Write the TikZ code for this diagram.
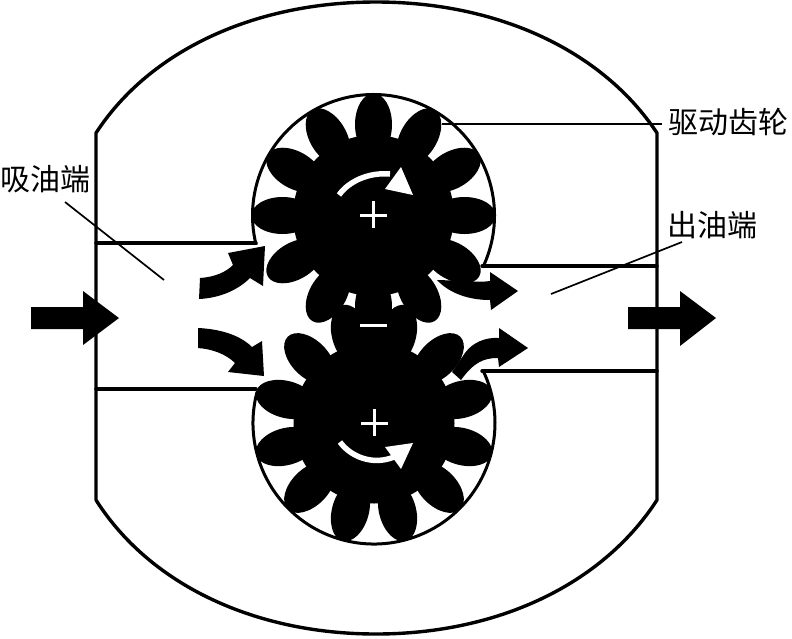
\documentclass[tikz,border=0pt]{standalone}
\usepackage{fontspec}
\newfontfamily\cjk{Noto Sans CJK SC}
\tikzset{
  x=1pt,y=1pt,
  wall/.style={line width=3.4pt,black,line cap=round,line join=round},
  casing/.style={line width=3pt,black},
  leader/.style={line width=1.7pt,black},
  blockarrow/.style={fill=black,draw=none},
  sign/.style={line width=3pt,white},
  lab/.style={font=\cjk\fontsize{30}{30}\selectfont,inner sep=0pt,text=black}
}
\newcommand{\gearat}[3]{% x, y, angle offset
  \fill[black] (#1,#2) circle[radius=80.5];
  \foreach \a in {0,30,...,330}{
    \fill[black,rotate around={#3+\a:(#1,#2)}] (#1+91,#2) ellipse[x radius=31,y radius=18.5];
  }
}
\begin{document}
\begin{tikzpicture}
\useasboundingbox (0,0) rectangle (792,-638);
\fill[white] (0,0) rectangle (792,-638);
% outer body
\draw[wall] (96,-500) -- (96,-133) .. controls (150,-50) and (255,-2) .. (376,-2)
  .. controls (497,-2) and (602,-50) .. (657,-133) -- (657,-500)
  .. controls (602,-585) and (497,-634) .. (376,-634)
  .. controls (255,-634) and (150,-585) .. (96,-500);
% gears
\gearat{373.5}{-215.5}{0}
\gearat{374}{-423}{15}
\fill[black] (345,-312) rectangle (403,-350);
% casing
\draw[casing] (373.5,-215.5) ++(-25.5:121) arc[start angle=-25.5,end angle=194,radius=121];
\draw[casing] (374,-423) ++(165:121) arc[start angle=165,end angle=386,radius=121];
\draw[wall] (96,-243) -- (256,-243);
\draw[wall] (96,-389) -- (256,-389);
\draw[wall] (482,-266) -- (657,-266);
\draw[wall] (482,-371) -- (657,-371);
% big arrows
\fill[blockarrow] (31,-307) -- (83,-307) -- (83,-291) -- (119,-318) -- (83,-345) -- (83,-329) -- (31,-329) -- cycle;
\fill[blockarrow] (628,-307) -- (680,-307) -- (680,-291) -- (716,-318) -- (680,-346) -- (680,-329) -- (628,-329) -- cycle;
% curved arrows
\fill[blockarrow] (200,-278) .. controls (215,-277) and (226,-272) .. (233,-265) -- (228,-253) -- (265,-246) -- (263,-286) -- (250,-278)
  .. controls (238,-290) and (220,-298) .. (199,-299) -- cycle;
\fill[blockarrow] (198,-328) .. controls (220,-329) and (240,-335) .. (252,-347) -- (262,-341) -- (264,-376) -- (228,-372) -- (235,-363)
  .. controls (226,-354) and (212,-349) .. (198,-348) -- cycle;
\fill[blockarrow] (470,-281) .. controls (476,-282) and (483,-282) .. (490,-281) -- (490,-272) -- (518,-291) -- (491,-310) -- (490,-300)
  .. controls (470,-300) and (450,-294) .. (437,-280) -- cycle;
\fill[blockarrow] (452,-372) -- (465,-353) .. controls (472,-343) and (485,-337) .. (499,-338) -- (499,-328) -- (528,-348) -- (499,-367) -- (498,-358)
  .. controls (484,-358) and (474,-362) .. (461,-380) -- cycle;
% rotation arrows
\draw[line width=5.5pt,white] (339,-195) .. controls (348,-182) and (368,-172) .. (390,-174);
\fill[white] (401,-167) -- (413,-195) -- (385,-189) -- cycle;
\draw[line width=5.5pt,white] (340,-442) .. controls (350,-456) and (372,-466) .. (394,-457);
\fill[white] (413,-443) -- (401,-469) -- (385,-447) -- cycle;
% signs
\draw[sign] (360,-215) -- (387,-215);
\draw[sign] (373.5,-201) -- (373.5,-228);
\draw[sign] (360,-325) -- (387,-325);
\draw[sign] (361,-423) -- (388,-423);
\draw[sign] (374,-409) -- (374,-436);
% labels
\node[lab,anchor=west] (drive) at (668,-122) {驱动齿轮};
\node[lab,anchor=west] (inlet) at (0,-179) {吸油端};
\node[lab,anchor=west] (outlet) at (667,-225) {出油端};
\coordinate (driveend) at (442,-124);
\coordinate (inletend) at (164,-280);
\coordinate (outletend) at (551,-294);
\coordinate (drivestart) at (662,-124);
\coordinate (inletstart) at (65,-202);
\coordinate (outletstart) at (682,-242);
\draw[leader] (drivestart) -- (driveend);
\draw[leader] (inletstart) -- (inletend);
\draw[leader] (outletstart) -- (outletend);
\end{tikzpicture}
\end{document}
